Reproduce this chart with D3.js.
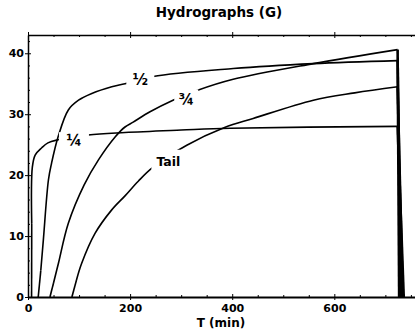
<!DOCTYPE html>
<html><head><meta charset="utf-8">
<script src="https://cdn.jsdelivr.net/npm/d3@7"></script>
<style>body{margin:0;background:#fff}svg{display:block}</style>
</head><body><svg id="c" width="415" height="332"></svg>
<script>
const title = "Hydrographs (G)";
const xLabel = "T (min)";
const xTicks = [0, 200, 400, 600];
const yTicks = [0, 10, 20, 30, 40];
const xMinor = [50, 100, 150, 250, 300, 350, 450, 500, 550, 650, 700, 750];
const yMinor = [2, 4, 6, 8, 12, 14, 16, 18, 22, 24, 26, 28, 32, 34, 36, 38, 42];

const quarterT = [7, 7.3, 8.5, 14, 27, 39, 59, 118, 190, 300, 396, 724, 736];
const quarterQ = [0, 12, 21.3, 23.3, 24.5, 25.3, 25.8, 26.6, 27.0, 27.4, 27.7, 28.0, 0];
const halfT = [20, 25, 30, 40, 46, 59, 79, 99, 125, 164, 190, 245, 402, 559, 724, 731];
const halfQ = [0, 4.3, 9.3, 19.2, 21.9, 26.3, 30.7, 32.3, 33.4, 34.5, 35.0, 36.2, 37.5, 38.3, 38.8, 0];
const threeT = [43, 50, 59.5, 79, 110, 138, 171, 190, 206, 239, 284, 331, 400, 559, 724, 727];
const threeQ = [0, 2.3, 5.5, 12.1, 18.4, 22.5, 26.3, 27.9, 28.7, 30.4, 32.3, 33.9, 35.7, 38.3, 40.6, 0];
const tailT = [86, 95, 105, 131, 164, 190, 216, 245, 311, 385, 441, 559, 640, 724, 734];
const tailQ = [0, 2.8, 5.5, 10.4, 14.3, 16.6, 19.0, 21.3, 24.9, 27.8, 29.3, 32.3, 33.5, 34.5, 0];

const curveNames = ["\u00BC", "\u00BD", "\u00BE", "Tail"];
const curveT = [quarterT, halfT, threeT, tailT];
const curveQ = [quarterQ, halfQ, threeQ, tailQ];
const labelT = [90, 220, 310, 275];
const labelQ = [25.9, 35.6, 32.6, 22.2];

const svg = d3.select("#c");
const x = d3.scaleLinear().domain([0, 760]).range([28, 416]);
const y = d3.scaleLinear().domain([0, 43]).range([297, 35]);
const font = "'DejaVu Sans', sans-serif";

// frame top
const topAx = svg.append("g").attr("transform", `translate(0,${y(43)})`)
  .call(d3.axisTop(x).tickValues(xTicks).tickFormat("").tickSizeInner(3).tickSizeOuter(0));
topAx.selectAll(".tick line").attr("y2", 3).attr("y1", -3);
topAx.select(".domain").attr("stroke-width", 1.5);
const topMinor = svg.append("g").attr("transform", `translate(0,${y(43)})`)
  .call(d3.axisBottom(x).tickValues(xMinor).tickFormat("").tickSizeInner(2).tickSizeOuter(0));
topMinor.select(".domain").remove();

// bottom axis
const bx = svg.append("g").attr("transform", `translate(0,${y(0)})`)
  .call(d3.axisBottom(x).tickValues(xTicks).tickSizeInner(3).tickSizeOuter(0).tickPadding(4));
bx.selectAll(".tick line").attr("y1", -3);
bx.select(".domain").attr("stroke-width", 2.2);
bx.selectAll("text").attr("font-family", font).attr("font-weight", "bold").attr("font-size", 11);
const bMinor = svg.append("g").attr("transform", `translate(0,${y(0)})`)
  .call(d3.axisTop(x).tickValues(xMinor).tickFormat("").tickSizeInner(2).tickSizeOuter(0));
bMinor.select(".domain").remove();

// left axis
const ly = svg.append("g").attr("transform", `translate(${x(0)},0)`)
  .call(d3.axisLeft(y).tickValues(yTicks).tickSizeInner(3).tickSizeOuter(0).tickPadding(1));
ly.selectAll(".tick line").attr("x1", 3);
ly.select(".domain").attr("stroke-width", 1.5);
ly.selectAll("text").attr("font-family", font).attr("font-weight", "bold").attr("font-size", 11);
const lMinor = svg.append("g").attr("transform", `translate(${x(0)},0)`)
  .call(d3.axisRight(y).tickValues(yMinor).tickFormat("").tickSizeInner(2).tickSizeOuter(0));
lMinor.select(".domain").remove();

// curves
const lineV = d3.line().x(d => x(d[0])).y(d => y(d[1])).curve(d3.curveLinear);
const lineS = d3.line().x(d => x(d[0])).y(d => y(d[1])).curve(d3.curveCatmullRom.alpha(0.5));
curveT.forEach((ts, i) => {
  const pts = ts.map((t, j) => [t, curveQ[i][j]]);
  const n = pts.length;
  svg.append("path").attr("d", lineV(pts.slice(0, 2))).attr("fill", "none").attr("stroke", "#000").attr("stroke-width", 1.6);
  svg.append("path").attr("d", lineS(pts.slice(1, n - 1)))
    .attr("fill", "none").attr("stroke", "#000").attr("stroke-width", 1.6);
  svg.append("path").attr("d", lineV(pts.slice(n - 2))).attr("fill", "none").attr("stroke", "#000").attr("stroke-width", 2.6);
});

// labels with gaps in lines
const gaps = [[30, 14], [28, 20], [24, 18], [34, 24]];
curveNames.forEach((name, i) => {
  const cx = x(labelT[i]), cy = y(labelQ[i]);
  svg.append("rect").attr("x", cx - gaps[i][0] / 2).attr("y", cy - gaps[i][1] / 2)
    .attr("width", gaps[i][0]).attr("height", gaps[i][1]).attr("fill", "#fff");
  svg.append("text").attr("x", cx).attr("y", cy).attr("text-anchor", "middle").attr("dy", "0.36em")
    .attr("font-family", font).attr("font-weight", "bold").attr("font-size", i === 3 ? 12.5 : 15)
    .text(name);
});

svg.append("text").attr("x", 219).attr("y", 17).attr("text-anchor", "middle")
  .attr("font-family", font).attr("font-weight", "bold").attr("font-size", 13.5).text(title);
svg.append("text").attr("x", 221).attr("y", 327).attr("text-anchor", "middle")
  .attr("font-family", font).attr("font-weight", "bold").attr("font-size", 12).text(xLabel);
</script></body></html>
